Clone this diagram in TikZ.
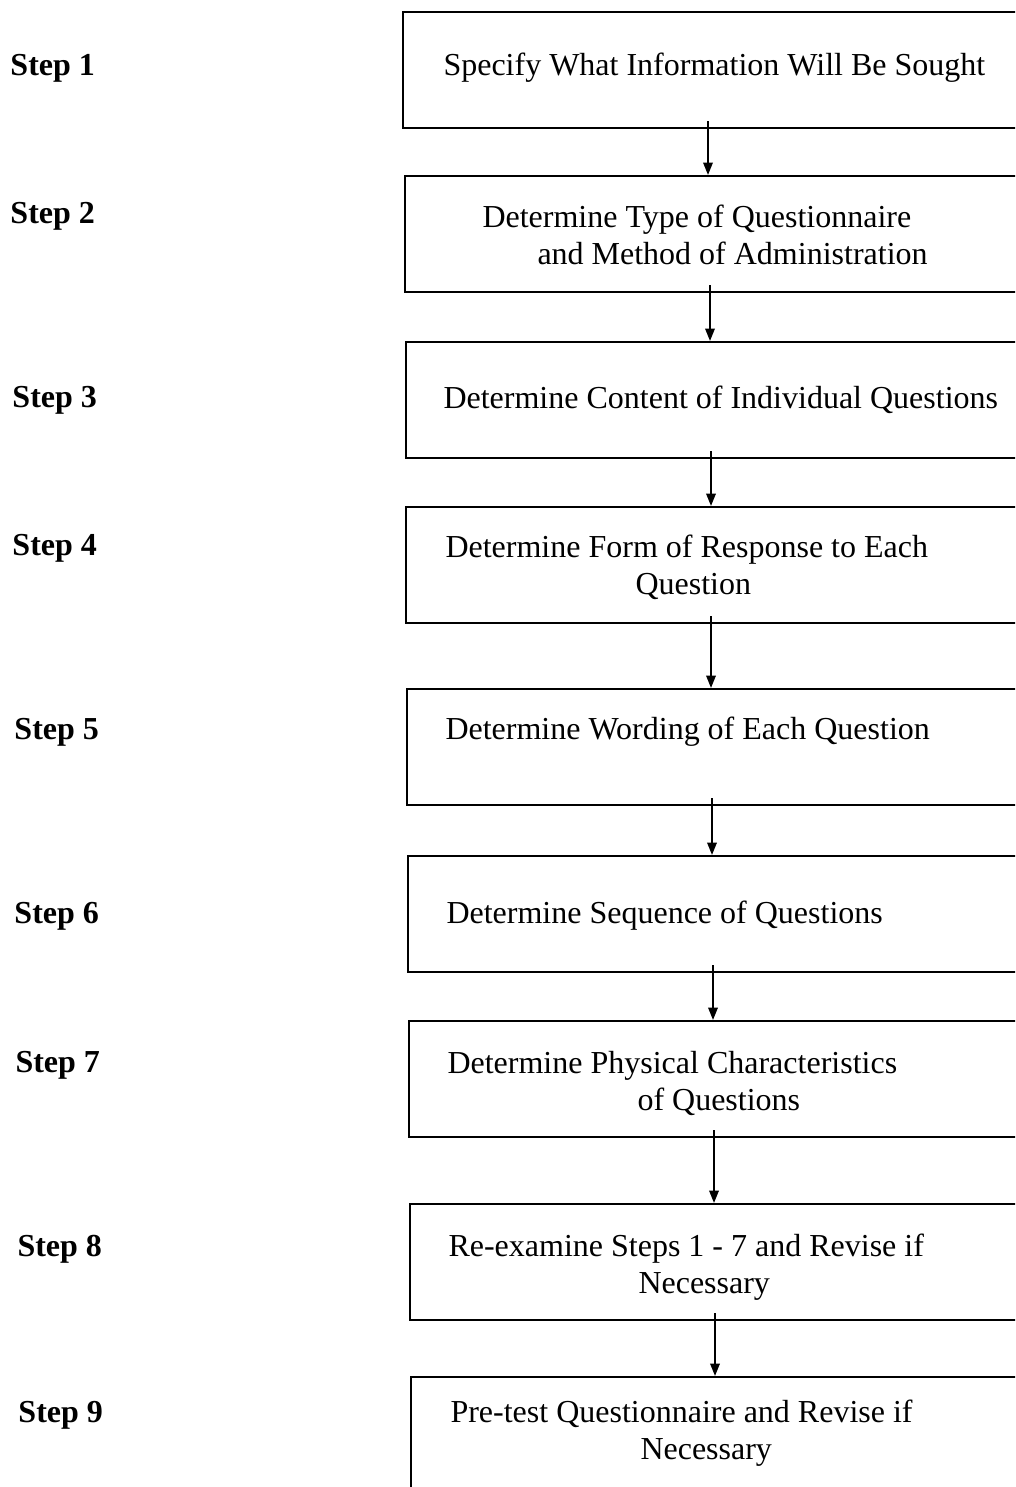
\documentclass[tikz,border=0pt]{standalone}
\usepackage{fontspec}
\setmainfont{Liberation Serif}
\usetikzlibrary{arrows.meta,calc}

\tikzset{
  stepbox/.style={draw, line width=0.8pt, anchor=north west, inner sep=0pt,
    minimum width=250pt, minimum height=46.4pt},
  boxtext/.style={anchor=west, align=left, inner sep=0pt,
    font=\fontsize{12.8}{14.8}\selectfont},
  steplabel/.style={anchor=west, inner sep=0pt,
    font=\fontsize{12.8}{14.8}\selectfont\bfseries},
  flow/.style={line width=0.8pt, -{Triangle[length=5pt,width=3.8pt]}}
}

\begin{document}
\begin{tikzpicture}[x=0.4pt, y=-0.4pt]
\useasboundingbox (0,0) rectangle (1015,1487);
\clip (0,0) rectangle (1015,1487);

% the nine boxes, stepping slightly to the right as they go down
\node[stepbox] (b1) at (402,11)   {};
\node[stepbox] (b2) at (404,175)  {};
\node[stepbox] (b3) at (405,341)  {};
\node[stepbox] (b4) at (405,506)  {};
\node[stepbox] (b5) at (406,688)  {};
\node[stepbox] (b6) at (407,855)  {};
\node[stepbox] (b7) at (408,1020) {};
\node[stepbox] (b8) at (409,1203) {};
\node[stepbox, minimum height=52pt] (b9) at (410,1376) {};

% box texts
\node[boxtext] (t1) at (443,68)   {Specify What Information Will Be Sought};
\node[boxtext] (t2) at (482,235)  {Determine Type of Questionnaire\\ \hspace*{22pt}and Method of Administration};
\node[boxtext] (t3) at (443,400)  {Determine Content of Individual Questions};
\node[boxtext] (t4) at (445,567)  {Determine Form of Response to Each\\ \hspace*{76pt}Question};
\node[boxtext] (t5) at (445,732)  {Determine Wording of Each Question};
\node[boxtext] (t6) at (446,916)  {Determine Sequence of Questions};
\node[boxtext] (t7) at (447,1083) {Determine Physical Characteristics\\ \hspace*{76pt}of Questions};
\node[boxtext] (t8) at (448,1267) {Re-examine Steps 1 - 7 and Revise if\\ \hspace*{76pt}Necessary};
\node[boxtext] (t9) at (450,1433) {Pre-test Questionnaire and Revise if\\ \hspace*{76pt}Necessary};

% step labels down the left side
\foreach \n/\x/\y in {1/10/68, 2/10/216, 3/12/400, 4/12/548, 5/14/732,
                      6/14/916, 7/15/1065, 8/17/1249, 9/18/1415}
  \node[steplabel] (s\n) at (\x,\y) {Step \n};

% arrows straight down between consecutive boxes
\foreach \i/\j in {1/2, 2/3, 3/4, 4/5, 5/6, 6/7, 7/8, 8/9}
  \draw[flow] ($(b\i.south west)+(306,-8)$) coordinate (a\i) -- (a\i |- b\j.north);
\end{tikzpicture}
\end{document}
